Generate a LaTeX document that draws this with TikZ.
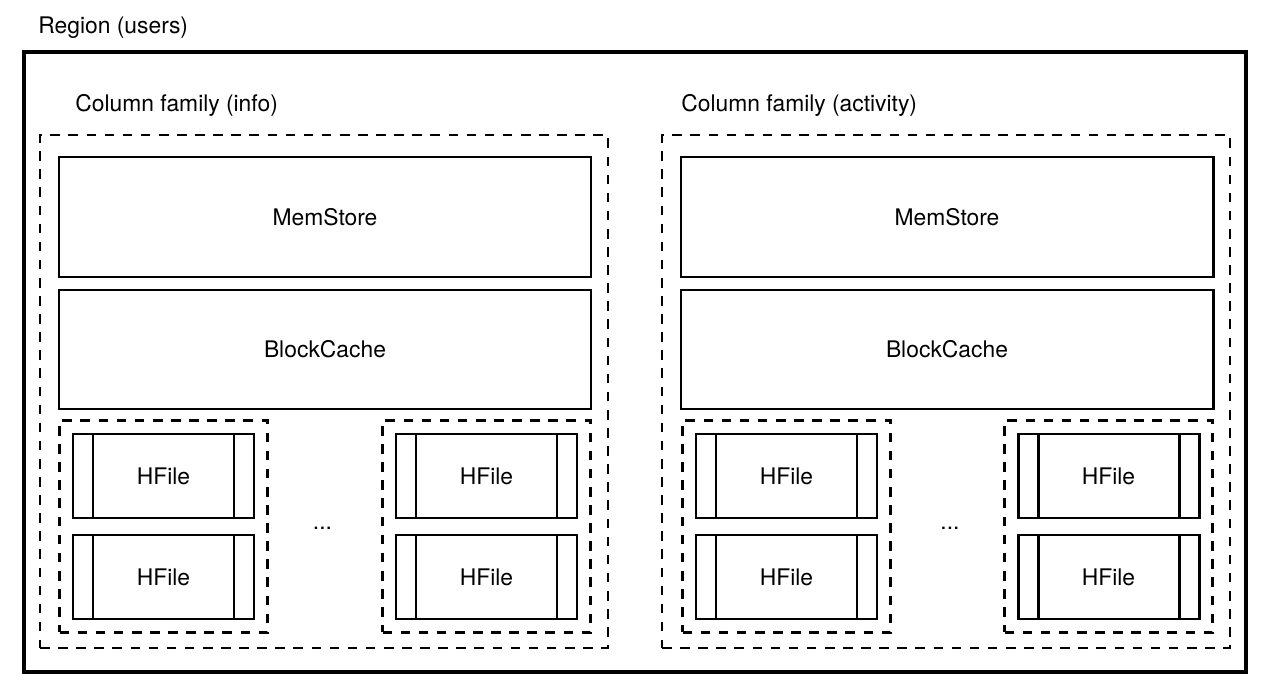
\documentclass[tikz,border=0pt]{standalone}
\usepackage{fontspec}
\setmainfont{TeX Gyre Heros}
\usetikzlibrary{fit}

\begin{document}
\begin{tikzpicture}
    [font=\fontsize{13}{15}\selectfont,
     solidbox/.style={draw, line width=1.7pt, minimum width=10.64cm, minimum height=2.4cm},
     hfile/.style={draw, line width=1.7pt, minimum width=3.62cm, minimum height=1.68cm,
       path picture={
         \draw[line width=1.7pt] ([xshift=0.4cm]path picture bounding box.north west) -- ([xshift=0.4cm]path picture bounding box.south west);
         \draw[line width=1.7pt] ([xshift=-0.4cm]path picture bounding box.north east) -- ([xshift=-0.4cm]path picture bounding box.south east);}},
     hgroup/.style={draw, line width=1.3pt, dash pattern=on 5.5pt off 4.8pt, inner sep=0.24cm},
     cfbox/.style={draw, line width=1.3pt, dash pattern=on 5.5pt off 4.8pt, minimum width=11.36cm, minimum height=10.26cm},
     titletext/.style={anchor=base west, inner sep=0pt}]
  \useasboundingbox (0,0) rectangle (25.36,-13.72);

  \node[titletext] (RT) at (0.76,-0.67) {Region (users)};
  \node[draw, line width=1.9pt, minimum width=24.44cm, minimum height=12.4cm] (R) at (12.7,-7.24) {};

  % column family (info)
  \node[titletext] (CT1) at (1.5,-2.24) {Column family (info)};
  \node[cfbox] (CF1) at (6.48,-7.83) {};
  \node[solidbox] (M1) at (6.5,-4.34) {MemStore};
  \node[solidbox, minimum height=2.38cm] (B1) at (6.5,-6.99) {BlockCache};
  \node[hfile] (H1) at (3.27,-9.52) {HFile};
  \node[hfile] (H2) at (3.27,-11.54) {HFile};
  \node[hfile] (H3) at (9.73,-9.52) {HFile};
  \node[hfile] (H4) at (9.73,-11.54) {HFile};
  \node[hgroup, fit=(H1)(H2)] (G1) {};
  \node[hgroup, fit=(H3)(H4)] (G2) {};
  \node (D1) at (6.45,-10.56) {...};

  % column family (activity)
  \node[titletext] (CT2) at (13.62,-2.24) {Column family (activity)};
  \node[cfbox] (CF2) at (18.92,-7.83) {};
  \node[solidbox] (M2) at (18.94,-4.34) {MemStore};
  \node[solidbox, minimum height=2.38cm] (B2) at (18.94,-6.99) {BlockCache};
  \node[hfile] (H5) at (15.73,-9.52) {HFile};
  \node[hfile] (H6) at (15.73,-11.54) {HFile};
  \node[hfile] (H7) at (22.17,-9.52) {HFile};
  \node[hfile] (H8) at (22.17,-11.54) {HFile};
  \node[hgroup, fit=(H5)(H6)] (G3) {};
  \node[hgroup, fit=(H7)(H8)] (G4) {};
  \node (D2) at (19.0,-10.56) {...};
\end{tikzpicture}
\end{document}
